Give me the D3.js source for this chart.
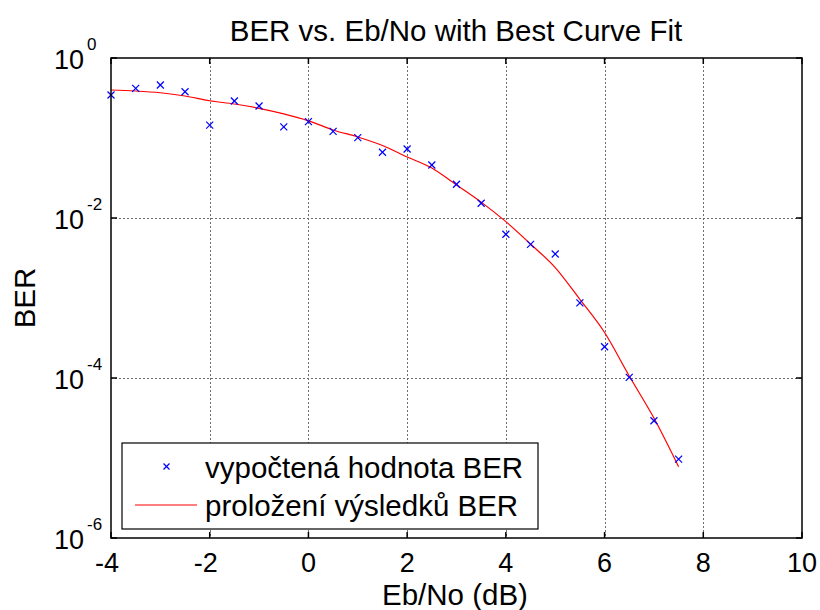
<!DOCTYPE html>
<html>
<head>
<meta charset="utf-8">
<script src="https://cdn.jsdelivr.net/npm/d3@7"></script>
<style>
  body { margin: 0; background: #fff; }
  text { font-family: "Liberation Sans", Arial, sans-serif; fill: #000; }
</style>
</head>
<body>
<div id="chart"></div>
<script>
// BER vs Eb/No, measured points and fitted curve
const ebNo = [-4, -3.5, -3, -2.5, -2, -1.5, -1, -0.5, 0, 0.5, 1, 1.5, 2, 2.5, 3, 3.5, 4, 4.5, 5, 5.5, 6, 6.5, 7, 7.5];
const berMeasured = [0.345, 0.418, 0.46, 0.379, 0.145, 0.29, 0.251, 0.138, 0.16, 0.121, 0.101, 0.0663, 0.0729, 0.046,
    0.0264, 0.0153, 0.00626, 0.00469, 0.00355, 8.7e-4, 2.46e-4, 1.02e-4, 2.92e-5, 9.7e-6];
const berFit = [0.398, 0.387, 0.368, 0.335, 0.292, 0.266, 0.235, 0.2, 0.164, 0.126, 0.103, 0.0806, 0.0579, 0.0422,
    0.0259, 0.0158, 0.009, 0.00473, 0.0024, 9.6e-4, 3.7e-4, 1.06e-4, 3.16e-5, 7.78e-6];

const xTicks = [-4, -2, 0, 2, 4, 6, 8, 10];
const yTickExps = [0, -2, -4, -6];
const legendLabels = ['vypočtená hodnota BER', 'proložení výsledků BER'];

const W = 820, H = 610;
const plot = { left: 111, right: 802, top: 58, bottom: 538 };
const fs = 29.5;      // title, axis labels, legend
const tickFs = 27;

const svg = d3.select('#chart').append('svg')
    .attr('width', W)
    .attr('height', H);

const x = d3.scaleLinear().domain([-4, 10]).range([plot.left, plot.right]);
const y = d3.scaleLog().domain([1e-6, 1]).range([plot.bottom, plot.top]);

// grid
const grid = svg.append('g').attr('stroke', '#6e6e6e').attr('stroke-width', 1).attr('stroke-dasharray', '2,2');
grid.selectAll('.gx').data(xTicks.slice(1, -1)).enter().append('line')
    .attr('x1', d => Math.round(x(d)) + 0.5).attr('x2', d => Math.round(x(d)) + 0.5)
    .attr('y1', plot.top).attr('y2', plot.bottom);
grid.selectAll('.gy').data(yTickExps.slice(1, -1)).enter().append('line')
    .attr('y1', d => Math.round(y(Math.pow(10, d))) + 0.5).attr('y2', d => Math.round(y(Math.pow(10, d))) + 0.5)
    .attr('x1', plot.left).attr('x2', plot.right);

// fitted curve
const line = d3.line()
    .x((d, i) => x(ebNo[i]))
    .y(d => y(d))
    .curve(d3.curveMonotoneX);

svg.append('path')
    .datum(berFit)
    .attr('fill', 'none')
    .attr('stroke', '#ff0000')
    .attr('stroke-width', 1.2)
    .attr('d', line);

// measured points as x markers
const cross = (g, cx, cy, r) => {
    g.append('line').attr('x1', cx - r).attr('y1', cy - r).attr('x2', cx + r).attr('y2', cy + r);
    g.append('line').attr('x1', cx - r).attr('y1', cy + r).attr('x2', cx + r).attr('y2', cy - r);
};
const markers = svg.append('g').attr('stroke', '#0000ff').attr('stroke-width', 1.2);
berMeasured.forEach((v, i) => cross(markers, x(ebNo[i]), y(v), 3.5));

// frame and inner ticks
const frame = svg.append('g').attr('stroke', '#000').attr('stroke-width', 1.5).attr('fill', 'none');
frame.append('rect')
    .attr('x', plot.left).attr('y', plot.top)
    .attr('width', plot.right - plot.left).attr('height', plot.bottom - plot.top);
xTicks.forEach(t => {
    const px = x(t);
    frame.append('line').attr('x1', px).attr('x2', px).attr('y1', plot.bottom).attr('y2', plot.bottom - 6);
    frame.append('line').attr('x1', px).attr('x2', px).attr('y1', plot.top).attr('y2', plot.top + 6);
});
yTickExps.forEach(e => {
    const py = y(Math.pow(10, e));
    frame.append('line').attr('x1', plot.left).attr('x2', plot.left + 6).attr('y1', py).attr('y2', py);
    frame.append('line').attr('x1', plot.right).attr('x2', plot.right - 6).attr('y1', py).attr('y2', py);
});

// x tick labels
svg.selectAll('.xt').data(xTicks).enter().append('text')
    .attr('x', d => x(d) - (d < 0 ? 4 : 0))
    .attr('y', plot.bottom + 34)
    .attr('text-anchor', 'middle')
    .style('font-size', tickFs + 'px')
    .text(d => d);

// y tick labels: 10 with superscript exponent
yTickExps.forEach(e => {
    const py = y(Math.pow(10, e));
    svg.append('text')
        .attr('x', plot.left - 27)
        .attr('y', py + 10.5)
        .attr('text-anchor', 'end')
        .style('font-size', tickFs + 'px')
        .text('10');
    svg.append('text')
        .attr('x', plot.left - 24)
        .attr('y', py - 8)
        .style('font-size', '17px')
        .text(e);
});

// title and axis labels
svg.append('text')
    .attr('x', 456)
    .attr('y', 41)
    .attr('text-anchor', 'middle')
    .style('font-size', fs + 'px')
    .text('BER vs. Eb/No with Best Curve Fit');

svg.append('text')
    .attr('x', 455)
    .attr('y', 605)
    .attr('text-anchor', 'middle')
    .style('font-size', fs + 'px')
    .text('Eb/No (dB)');

svg.append('text')
    .attr('transform', `translate(35, ${(plot.top + plot.bottom) / 2}) rotate(-90)`)
    .attr('text-anchor', 'middle')
    .style('font-size', fs + 'px')
    .text('BER');

// legend
const legend = svg.append('g').attr('transform', 'translate(122, 443)');
legend.append('rect')
    .attr('width', 416).attr('height', 86)
    .attr('fill', '#fff').attr('stroke', '#000').attr('stroke-width', 1.2);

const legMark = legend.append('g').attr('stroke', '#0000ff').attr('stroke-width', 1.2);
cross(legMark, 44.5, 23.5, 3);
legend.append('line')
    .attr('x1', 13).attr('x2', 75).attr('y1', 62).attr('y2', 62)
    .attr('stroke', '#ff0000').attr('stroke-width', 1.2);

legend.selectAll('.lt').data(legendLabels).enter().append('text')
    .attr('x', 83)
    .attr('y', (d, i) => 35 + i * 38)
    .style('font-size', fs + 'px')
    .text(d => d);
</script>
</body>
</html>
